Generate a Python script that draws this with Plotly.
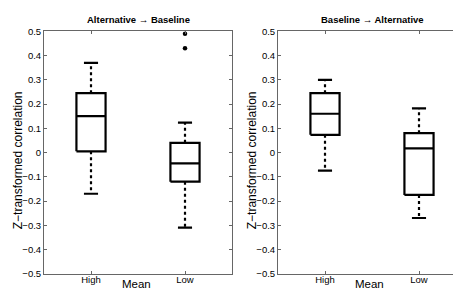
import plotly.graph_objects as go

categories = ["High", "Low"]
panel_titles = ["Alternative \u2192 Baseline", "Baseline \u2192 Alternative"]

# per panel: [High, Low]
alt_base_upper = [0.37, 0.123]
alt_base_q3 = [0.245, 0.04]
alt_base_median = [0.15, -0.045]
alt_base_q1 = [0.005, -0.12]
alt_base_lower = [-0.17, -0.31]
alt_base_outliers = [[], [0.49, 0.43]]

base_alt_upper = [0.30, 0.182]
base_alt_q3 = [0.245, 0.08]
base_alt_median = [0.16, 0.017]
base_alt_q1 = [0.073, -0.175]
base_alt_lower = [-0.075, -0.27]
base_alt_outliers = [[], []]

y_ticks = [0.5, 0.4, 0.3, 0.2, 0.1, 0, -0.1, -0.2, -0.3, -0.4, -0.5]

panels = [
    (alt_base_upper, alt_base_q3, alt_base_median, alt_base_q1, alt_base_lower, alt_base_outliers),
    (base_alt_upper, base_alt_q3, base_alt_median, base_alt_q1, base_alt_lower, base_alt_outliers),
]

BW = 0.155   # half box width (x units)
CW = 0.075   # half cap width
LW = 2.2
FONT = "Liberation Sans, Arial, Helvetica, sans-serif"

fig = go.Figure()
for pi, (up, q3, med, q1, lo, outl) in enumerate(panels):
    xa = "x" if pi == 0 else "x2"
    ya = "y" if pi == 0 else "y2"
    box_x, box_y, wh_x, wh_y, cap_x, cap_y, ox, oy = [], [], [], [], [], [], [], []
    for ci in range(len(categories)):
        p = ci + 1
        box_x += [p - BW, p + BW, p + BW, p - BW, p - BW, None, p - BW, p + BW, None]
        box_y += [q1[ci], q1[ci], q3[ci], q3[ci], q1[ci], None, med[ci], med[ci], None]
        wh_x += [p, p, None, p, p, None]
        wh_y += [q3[ci], up[ci], None, q1[ci], lo[ci], None]
        cap_x += [p - CW, p + CW, None, p - CW, p + CW, None]
        cap_y += [up[ci], up[ci], None, lo[ci], lo[ci], None]
        for v in outl[ci]:
            ox.append(p)
            oy.append(v)
    fig.add_trace(go.Scatter(x=wh_x, y=wh_y, mode="lines", xaxis=xa, yaxis=ya,
                             line=dict(color="black", width=LW, dash="3px,3px"),
                             hoverinfo="skip", showlegend=False))
    fig.add_trace(go.Scatter(x=cap_x, y=cap_y, mode="lines", xaxis=xa, yaxis=ya,
                             line=dict(color="black", width=LW),
                             hoverinfo="skip", showlegend=False))
    fig.add_trace(go.Scatter(x=box_x, y=box_y, mode="lines", xaxis=xa, yaxis=ya,
                             line=dict(color="black", width=LW),
                             hoverinfo="skip", showlegend=False))
    if ox:
        fig.add_trace(go.Scatter(x=ox, y=oy, mode="markers", xaxis=xa, yaxis=ya,
                                 marker=dict(color="black", size=4.5),
                                 hoverinfo="skip", showlegend=False))

W, H = 461, 290
left_dom = [36 / W, 224 / W]
right_dom = [270 / W, 458 / W]
y_dom = [1 - 270 / H, 1 - 18 / H]

axis_common = dict(
    showline=True, linecolor="#666", linewidth=1, mirror="allticks",
    ticks="inside", ticklen=3, tickcolor="#666", showgrid=False, zeroline=False,
    tickfont=dict(family=FONT, size=9.5, color="black"),
)

ticktext_y = [("0" if v == 0 else f"{v:.1f}".replace("-", "\u2212")) for v in y_ticks]
xcommon = dict(axis_common, range=[0.5, 2.5], tickvals=[1, 2], ticktext=categories,
               ticklabelstandoff=-3)
ycommon = dict(axis_common, range=[-0.5, 0.5], tickvals=y_ticks, ticktext=ticktext_y)

fig.update_layout(
    width=W, height=H,
    margin=dict(l=0, r=0, t=0, b=0),
    paper_bgcolor="white", plot_bgcolor="white",
    xaxis=dict(xcommon, domain=left_dom, anchor="y"),
    yaxis=dict(ycommon, domain=y_dom, anchor="x"),
    xaxis2=dict(xcommon, domain=right_dom, anchor="y2"),
    yaxis2=dict(ycommon, domain=y_dom, anchor="x2"),
)

ann = []
for dom, title in zip([left_dom, right_dom], panel_titles):
    cx = (dom[0] + dom[1]) / 2
    ann.append(dict(text=f"<b>{title}</b>", x=cx, y=1 - 6 / H, xref="paper", yref="paper",
                    showarrow=False, xanchor="center", yanchor="middle",
                    font=dict(family=FONT, size=9.5, color="black")))
    ann.append(dict(text="Mean", x=cx - 2 / W, y=1 - 289 / H, xref="paper", yref="paper",
                    showarrow=False, xanchor="center", yanchor="bottom",
                    font=dict(family=FONT, size=11.5, color="black")))
    ann.append(dict(text="Z\u2212transformed correlation", x=dom[0] - 26 / W, y=1 - 152 / H,
                    xref="paper", yref="paper", textangle=-90,
                    showarrow=False, xanchor="center", yanchor="middle",
                    font=dict(family=FONT, size=12, color="black")))
fig.update_layout(annotations=ann)

fig.write_html("out.html")
